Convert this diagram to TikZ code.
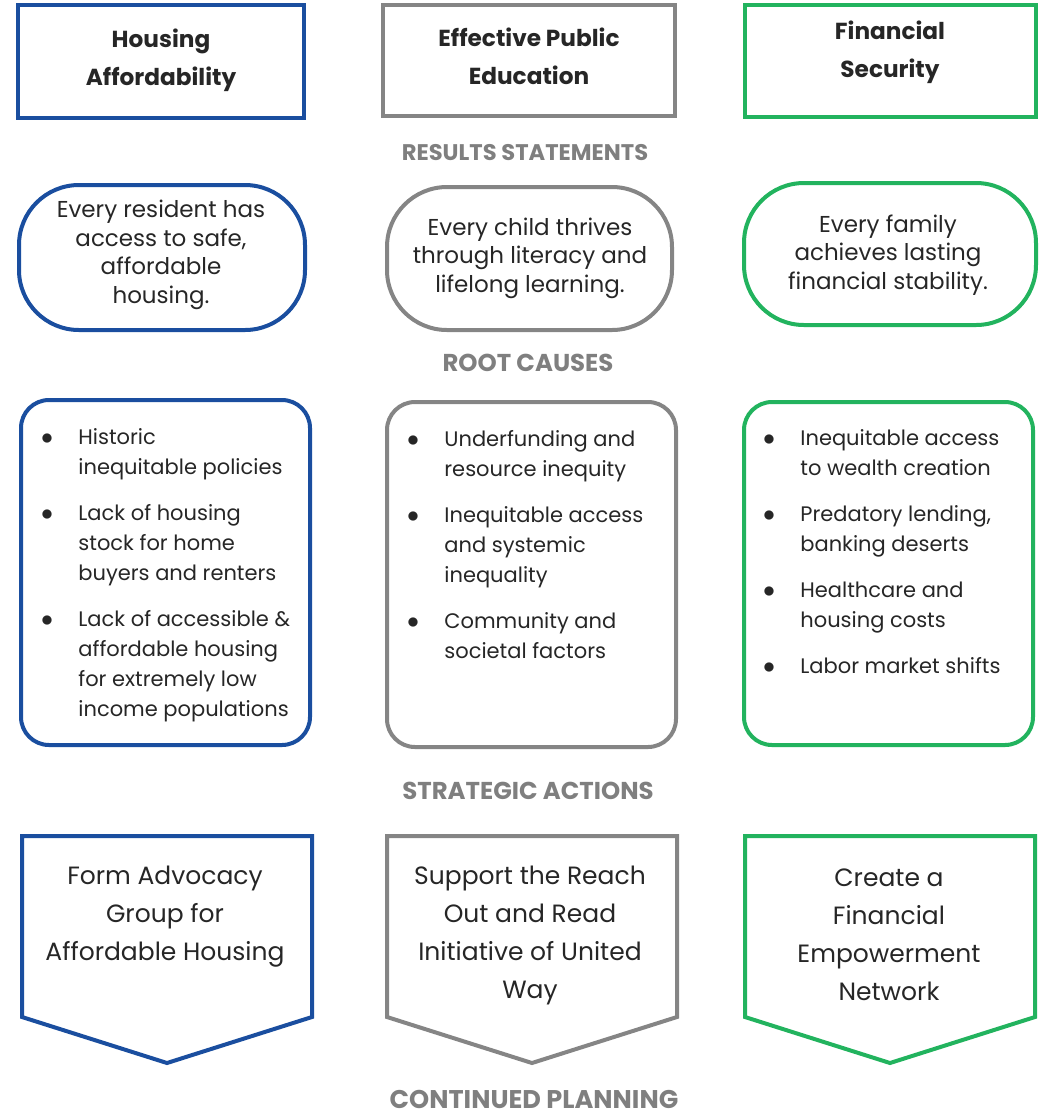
\documentclass[tikz,border=0pt]{standalone}
\usepackage{fontspec}
\setmainfont{Poppins}
\usetikzlibrary{positioning}

\definecolor{hblue}{HTML}{1A4E9F}
\definecolor{egray}{HTML}{858585}
\definecolor{fgreen}{HTML}{22B35E}
\definecolor{lblgray}{HTML}{7F7F7F}
\definecolor{txt}{HTML}{262626}

\newcommand\bul{\makebox[18pt][l]{\hspace*{-0.6pt}\large$\bullet$}}
\newcommand\ind{\hspace*{18pt}}

\begin{document}
\begin{tikzpicture}[x=0.5pt, y=-0.5pt,
    every node/.style={inner sep=0pt, text=txt},
    frame/.style={line width=2pt},
    titletext/.style={font=\bfseries\fontsize{11.6}{19}\selectfont, align=center},
    headtext/.style={font=\bfseries\fontsize{#1}{12}\selectfont, text=lblgray},
    resulttext/.style={font=\fontsize{11.5}{14.25}\selectfont, align=center},
    causetext/.style={font=\fontsize{10.5}{15}\selectfont, align=left},
    actiontext/.style={font=\fontsize{12.5}{19}\selectfont, align=center},
]
    \useasboundingbox (0,0) rectangle (1051,1116);

    % goal boxes
    \draw [frame, hblue]  (18,5)  rectangle (304,118);
    \draw [frame, egray]  (383,5) rectangle (675,116);
    \draw [frame, fgreen] (745,5) rectangle (1036,117);
    \node [titletext] (housing)   at (161,60) {Housing\\Affordability};
    \node [titletext] (education) at (529,56) {Effective Public\\Education};
    \node [titletext] (finance)   at (890,52) {Financial\\Security};

    \node [headtext=11.3] (results) at (525,153) {RESULTS STATEMENTS};

    % results statements
    \draw [frame, hblue,  rounded corners=30pt] (19,185)  rectangle (305,330);
    \draw [frame, egray,  rounded corners=30pt] (387,187) rectangle (672,330);
    \draw [frame, fgreen, rounded corners=30pt] (744,183) rectangle (1036,325);
    \node [resulttext] (housingresult)   at (161,255)
        {Every resident has\\access to safe,\\affordable\\housing.};
    \node [resulttext] (educationresult) at (530,258)
        {Every child thrives\\through literacy and\\lifelong learning.};
    \node [resulttext] (financeresult)   at (888,255)
        {Every family\\achieves lasting\\financial stability.};

    \node [headtext=12.2] (causes) at (528,363) {ROOT CAUSES};

    % root causes
    \draw [frame, hblue,  rounded corners=14pt] (21,400)  rectangle (310,745);
    \draw [frame, egray,  rounded corners=14pt] (387,402) rectangle (676,747);
    \draw [frame, fgreen, rounded corners=14pt] (744,402) rectangle (1033,745);
    \node [causetext, anchor=west] (housingcauses) at (42,575)
        {\bul Historic\\\ind inequitable policies\\[8pt]
         \bul Lack of housing\\\ind stock for home\\\ind buyers and renters\\[8pt]
         \bul Lack of accessible \&\\\ind affordable housing\\\ind for extremely low\\\ind income populations};
    \node [causetext, anchor=west] (educationcauses) at (408,545)
        {\bul Underfunding and\\\ind resource inequity\\[8pt]
         \bul Inequitable access\\\ind and systemic\\\ind inequality\\[8pt]
         \bul Community and\\\ind societal factors};
    \node [causetext, anchor=west] (financecauses) at (764,552)
        {\bul Inequitable access\\\ind to wealth creation\\[8pt]
         \bul Predatory lending,\\\ind banking deserts\\[8pt]
         \bul Healthcare and\\\ind housing costs\\[8pt]
         \bul Labor market shifts};

    \node [headtext=12.2] (actions) at (528,791) {STRATEGIC ACTIONS};

    % strategic actions
    \foreach \cx/\col in {167/hblue, 532/egray, 890/fgreen} {
        \draw [frame, \col]
            ({\cx-145},836) -- ({\cx+145},836) -- ({\cx+145},1017)
            -- (\cx,1063) -- ({\cx-145},1017) -- cycle;
    }
    \node [actiontext] (housingaction)   at (165,917)
        {Form Advocacy\\Group for\\Affordable Housing};
    \node [actiontext] (educationaction) at (530,935)
        {Support the Reach\\Out and Read\\Initiative of United\\Way};
    \node [actiontext] (financeaction)   at (889,935)
        {Create a\\Financial\\Empowerment\\Network};

    \node [headtext=12.8] (planning) at (534,1099) {CONTINUED PLANNING};
\end{tikzpicture}
\end{document}
